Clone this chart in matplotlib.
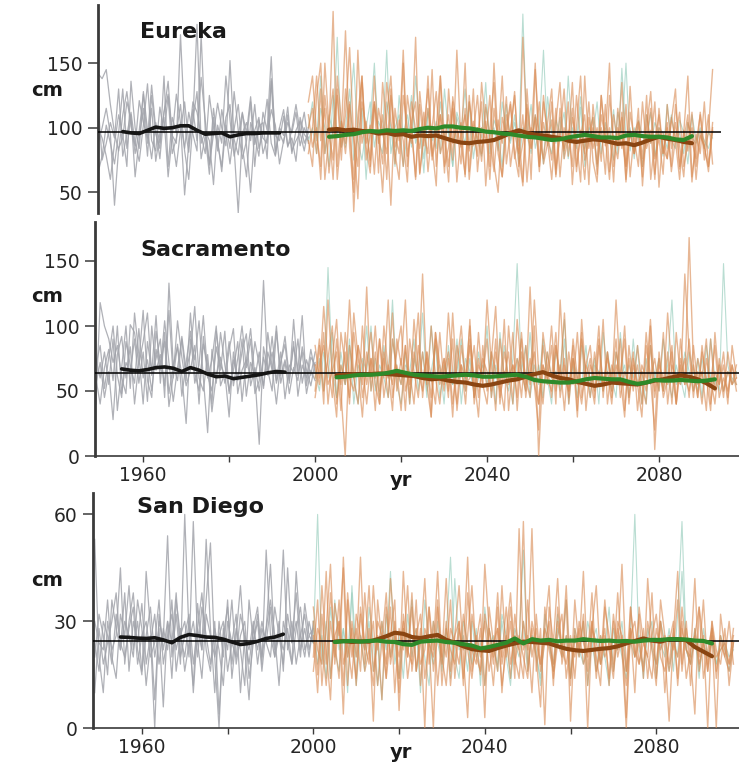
import matplotlib
matplotlib.use("Agg")
import matplotlib.pyplot as plt

plt.rcParams['font.family'] = ['DejaVu Sans']

# ---------------- data ----------------
hist_start = 1949
fut_start = 2000
hist_mean_years = list(range(1955, 1995, 2))
fut_mean_years = list(range(2005, 2095, 2))
xtick_vals = [1960, 1980, 2000, 2020, 2040, 2060, 2080]
xtick_labels = ['1960', '', '2000', '', '2040', '', '2080']

titles = ['Eureka', 'Sacramento', 'San Diego']
yticks = [[50, 100, 150], [0, 50, 100, 150], [0, 30, 60]]
ylims = [(34, 195), (0, 180), (0, 66)]
xlims = [(1949.0, 2104.4), (1948.8, 2098.6), (1948.6, 2099.3)]
refs = [97, 63.6, 24.6]
ref_end = [2100, 2110, 2110]

# Eureka
eu_gray = [
    [142,138,145,118,96,82,110,128,101,86,121,104,92,133,99,76,112,126,94,88,172,102,81,114,90,139,106,71,95,119,100,86,152,91,79,111,96,124,87,101,104,76,138,94,90,109,85,99,118,96,82,100],
    [65,78,102,88,72,96,130,84,110,62,92,115,78,125,95,84,140,70,108,96,118,82,60,104,180,88,97,72,115,90,66,102,84,128,98,76,90,120,70,106,92,88,136,79,100,114,86,92,74,108,95,90],
    [100,92,78,60,88,110,95,70,136,100,84,128,98,76,104,88,112,136,92,70,98,120,88,105,128,76,94,64,108,82,114,96,72,99,118,85,62,104,94,78,112,98,155,82,96,88,110,80,98,105,88,96],
    [88,100,115,95,40,84,92,120,106,80,98,126,88,115,74,96,108,62,94,126,104,84,112,95,82,172,98,90,56,102,88,140,106,78,94,112,86,50,98,108,80,92,114,102,72,90,104,96,112,86,100,92],
    [120,75,88,104,92,130,78,95,112,88,74,102,134,90,82,116,96,124,80,92,104,48,88,120,112,94,80,125,100,88,70,108,118,84,34,96,104,90,118,84,96,122,88,78,100,94,116,82,90,96,112,88],
]
eu_orange = [
    [120,140,95,70,150,100,60,130,85,110,162,90,45,120,100,75,140,88,110,60,125,95,80,150,70,105,120,65,98,130,85,55,140,92,110,75,160,88,64,120,96,78,135,100,60,115,90,140,72,98,125,80,55,118,92,150,70,104,86,120,62,95,130,78,108,90,58,140,84,100,72,125,92,60,110,88,135,70,96,80,115,55,100,128,76,92,64,118,84,104,70,96,140,62,88,110,75,98,145],
    [90,70,125,150,80,105,130,60,95,175,85,50,110,140,75,95,120,65,135,100,40,115,90,160,78,100,62,128,95,80,145,70,110,92,58,124,100,85,150,66,105,90,120,55,98,135,80,62,110,94,128,70,88,115,60,145,92,76,104,130,68,96,84,120,56,100,140,75,90,108,64,125,86,100,58,115,92,70,132,80,96,62,110,88,120,54,96,76,105,130,68,90,110,58,95,80,120,70,98],
    [100,115,80,130,60,95,190,70,105,88,120,35,100,140,85,65,118,96,72,135,105,80,60,125,100,88,170,64,92,115,78,100,140,70,85,120,58,96,110,82,130,66,100,90,125,72,50,108,94,118,80,62,170,96,84,110,70,125,90,60,104,135,76,92,115,66,98,80,120,74,58,110,92,150,70,100,84,118,62,96,105,76,125,60,90,110,80,100,70,118,86,62,104,90,76,112,84,70,100],
    [80,100,140,90,115,65,100,125,75,130,95,60,160,88,105,70,120,92,50,110,140,85,98,70,125,100,60,118,86,140,75,95,110,65,130,88,100,72,115,60,96,125,80,105,70,150,88,62,100,120,76,95,58,130,84,108,66,120,96,75,115,62,100,88,135,70,94,110,56,118,86,100,64,125,90,76,108,58,112,92,70,120,84,98,60,115,80,104,66,92,112,70,88,100,60,96,84,110,72],
    [110,85,100,60,125,95,75,140,105,80,118,92,70,135,88,102,64,115,96,80,130,72,106,90,58,120,98,84,112,66,100,128,80,94,70,115,90,104,62,125,86,100,74,118,92,66,106,88,124,70,96,80,110,58,100,92,120,72,88,106,64,115,82,98,70,125,90,60,108,84,100,74,118,66,94,86,112,60,98,80,104,70,92,115,64,100,84,76,108,90,60,98,82,112,70,94,86,66,104],
]
eu_teal = [
    [100,120,90,140,80,110,95,170,85,100,130,75,95,115,60,105,150,90,80,120,100,70,125,95,110,85,140,100,65,115,90,105,80,130,95,70,112,100,88,120,76,100,92,135,80,106,96,70,118,90,104,86,188,94,80,110,98,72,124,96,88,108,76,140,92,84,116,70,100,94,120,80,104,90,75,112,96,150,82,100,92,70,110,88,104,96,78,118,90,84,106,96,72,110,90,100,84,96,92],
    [90,100,80,115,100,70,125,95,105,85,110,150,90,75,100,120,85,105,95,160,80,100,110,70,96,125,88,100,76,112,96,84,120,92,100,70,108,96,130,84,100,92,78,116,94,100,82,120,96,88,110,72,100,94,118,84,100,160,90,80,106,96,112,76,100,90,124,84,98,108,70,96,100,88,114,80,146,92,100,76,106,94,88,112,78,100,96,84,110,90,96,80,104,92,88,98,90,84,96],
]
eu_black = [97,96,95.5,98,100.5,99.5,100,101.5,101.5,98,95,95.5,96,93,94.5,95.5,95.5,96,96,96]
eu_brown = [98.5,99,98,98.5,97.5,97,95.5,96,94.5,95,93,94,93.5,94,92,90,88.5,88,89,89.5,
            90.5,93,96,98,96,94.5,94,93,92,90,89,90,91,90.5,89,87.5,88,86.5,88.5,91,93,91.5,90.5,89,88]
eu_green = [93,93.5,94.5,95,96.5,97.5,97,98,97.5,98,97.5,99,100,99.5,101,101,100,99.5,98.5,97,
            96.5,95.5,95,94,93,92.5,91.5,90.5,91,92.5,93.5,94.5,93.5,92.5,92.5,92,94,94.5,93.5,93,93,92.5,91,90.5,93.5]

# Sacramento
sa_gray = [
    [40,118,100,90,72,85,60,48,101,95,70,88,110,62,75,90,45,133,70,58,92,66,80,115,60,50,78,40,96,70,62,88,54,75,100,68,90,48,58,135,64,80,56,72,92,60,84,66,108,54,76,70],
    [75,60,80,55,90,35,68,100,52,110,78,40,88,65,108,56,95,48,70,84,62,25,90,74,104,60,18,82,56,95,70,50,66,88,42,74,98,60,80,52,95,68,40,72,86,56,105,62,80,48,66,58],
    [55,72,45,65,28,78,92,60,84,40,72,112,58,45,96,70,88,38,62,104,76,54,66,85,40,92,60,74,100,54,64,30,80,58,90,46,72,62,9,84,66,50,96,62,74,58,88,46,70,60,82,64],
    [60,40,68,82,58,100,48,72,64,90,56,80,42,100,66,78,54,112,60,86,46,72,96,56,70,108,62,50,84,66,96,48,74,60,80,94,54,68,50,76,62,92,58,80,44,70,64,90,56,74,62,80],
    [70,85,52,76,100,62,45,88,70,56,98,60,74,50,82,66,104,72,42,68,90,58,110,64,50,86,70,34,62,76,56,82,98,48,66,74,60,88,70,54,80,66,100,56,72,48,68,58,84,66,54,72],
]
sa_orange = [
    [50,85,40,120,60,30,95,70,45,110,75,55,130,50,80,40,100,65,35,90,70,120,45,80,60,140,55,30,95,70,50,110,65,40,85,60,100,45,75,55,120,70,35,90,60,80,40,105,65,50,130,55,20,95,70,45,85,60,110,40,75,55,95,35,70,60,100,45,80,50,120,60,30,85,55,70,40,95,60,20,80,50,110,65,40,90,55,168,70,45,80,60,35,95,55,70,40,85,60],
    [70,55,95,40,75,105,50,0,85,60,40,100,55,75,35,90,60,120,45,70,55,85,40,105,65,50,80,30,95,60,75,45,110,55,70,40,90,60,30,85,50,75,115,45,65,55,95,35,80,60,45,100,0,70,55,85,40,120,60,50,75,30,90,65,45,80,55,105,40,70,60,90,35,75,50,85,55,40,100,5,65,50,80,40,95,60,75,45,85,55,65,35,90,50,70,45,80,55,60],
    [85,60,115,70,45,90,55,80,40,95,65,30,80,60,100,50,75,45,90,65,35,85,55,70,110,45,80,60,40,95,55,75,30,85,65,50,105,40,70,60,90,45,80,55,35,100,60,75,45,85,55,120,65,40,80,60,95,45,70,50,85,35,105,60,75,45,90,55,65,40,80,60,100,45,70,55,30,85,60,75,50,95,40,70,60,55,140,80,45,75,60,90,40,65,55,80,45,70,50],
    [60,90,50,75,100,40,70,55,120,60,85,45,70,95,55,40,80,60,110,50,75,35,90,65,45,80,55,100,60,40,75,50,90,35,70,60,85,45,95,55,40,80,65,50,105,35,70,60,90,45,75,55,40,85,60,100,50,70,35,80,55,95,45,70,60,40,85,50,75,60,90,45,65,55,80,35,70,60,105,50,75,45,60,85,40,70,55,90,50,65,40,75,55,85,45,60,50,70,55],
    [45,70,85,55,65,80,35,95,60,50,85,70,40,75,60,90,45,70,55,80,100,50,65,40,85,60,75,45,90,55,65,80,40,70,100,55,60,85,45,75,65,50,90,40,80,60,70,45,95,55,65,80,40,70,60,50,85,55,75,45,90,60,40,70,85,50,65,55,80,45,70,60,90,40,75,55,65,50,85,45,70,60,55,80,40,75,60,50,70,45,85,55,60,40,75,50,65,55,70],
]
sa_teal = [
    [60,75,50,145,65,45,80,55,90,40,70,60,100,50,75,45,85,60,120,55,40,70,65,90,50,80,45,100,60,70,40,85,55,65,90,50,75,45,60,70,55,80,40,95,60,50,75,148,65,85,45,70,55,90,60,40,80,65,105,50,70,45,85,60,55,75,40,95,65,50,80,60,70,45,90,55,65,40,85,60,75,50,70,120,55,60,45,80,65,50,75,55,90,60,50,148,70,55,65],
    [65,50,80,60,95,45,70,55,85,60,40,75,65,100,50,70,60,45,90,65,55,80,40,75,60,110,50,65,85,45,70,60,55,90,40,75,65,50,80,60,100,45,70,55,85,60,40,75,65,50,95,55,70,45,80,60,65,50,90,40,75,60,55,85,45,70,65,50,80,60,45,95,55,70,60,85,40,75,55,65,50,90,60,45,70,55,80,65,50,75,45,85,60,55,70,50,65,60,55],
]
sa_black = [67,66,65.5,66.5,68,68.5,67.5,65,68,66,63,61,61.5,59.5,60.5,61.5,62.5,64,65,64.5]
sa_brown = [62,62.5,63,62.5,63,63.5,63,62.5,62,61.5,60,59,59.5,58,57,56.5,55,54,55,56.5,
            58,59,61,63,64.5,62,60,59,57,55.5,54,55,56.5,56,55.5,55,56.5,58,59,60.5,62,61,59,56,52]
sa_green = [60.5,61,62,62.5,62.5,63,64,65.5,64,62.5,62,61.5,61,61.5,62,62.5,62,61,61,61.5,
            62,62.5,61,58.5,57.5,57,56.5,56.5,57.5,59,60,59.5,59,59,57,55.5,56.5,58.5,58,58,58.5,58,57.5,58,59]

# San Diego
sd_gray = [
    [53,20,10,30,22,26,45,18,30,38,22,15,44,28,8,30,25,54,20,32,18,60,26,12,35,22,53,28,10,30,20,36,14,26,40,22,8,28,34,18,50,26,20,30,16,45,24,30,20,35,26,28],
    [20,32,26,15,36,28,22,38,16,30,24,35,18,26,0,32,22,30,14,36,26,20,30,10,28,38,22,16,30,4,26,34,18,28,22,12,36,24,30,16,28,46,22,26,18,32,24,38,22,28,20,30],
    [10,28,18,24,30,38,22,30,26,20,36,28,12,24,32,18,28,22,36,16,26,30,20,58,24,14,32,26,20,0,28,22,36,18,26,30,14,24,32,20,28,36,26,12,30,24,18,28,34,22,26,24],
    [30,24,22,36,20,14,32,26,40,22,30,16,26,34,20,28,6,30,24,38,20,26,32,18,28,22,36,52,20,26,30,16,24,32,10,26,22,30,18,28,24,20,34,26,50,22,30,18,26,32,22,28],
    [24,16,30,26,18,32,24,20,28,34,18,26,30,20,24,36,18,26,32,22,28,16,24,30,20,34,26,18,28,22,12,30,24,20,32,26,18,28,22,30,24,34,20,26,22,28,18,44,26,20,30,24],
]
sd_orange = [
    [30,15,40,22,8,35,26,45,12,30,20,48,18,28,2,36,24,14,42,26,10,32,20,38,16,28,0,34,22,44,18,30,12,26,40,20,3,32,24,15,46,28,18,34,10,26,38,20,14,30,22,56,16,28,1,34,24,42,18,26,12,36,22,30,0,28,40,18,26,14,32,22,46,16,28,10,34,24,20,38,14,30,22,2,26,44,18,30,12,28,20,36,16,26,0,32,22,18,28],
    [20,36,12,28,46,18,30,4,38,24,14,32,22,40,16,26,8,34,20,30,14,44,22,18,36,12,28,24,0,34,20,42,16,26,30,12,38,22,18,28,3,34,24,16,40,20,30,14,56,22,26,10,32,18,28,40,14,24,20,36,2,28,22,44,16,30,20,12,34,26,18,38,22,0,28,20,32,14,42,24,18,30,10,26,22,36,16,28,20,4,34,24,18,30,14,26,20,16,24],
    [26,10,32,18,38,24,14,48,20,28,12,34,24,18,40,22,30,14,26,36,5,28,20,34,16,24,42,18,30,12,26,20,36,14,28,22,48,16,24,32,12,28,20,38,18,26,14,32,22,58,16,28,20,6,34,24,18,30,22,40,14,26,20,32,12,28,24,18,36,22,14,30,26,3,34,20,24,16,30,22,12,36,26,18,28,14,34,22,20,42,16,26,0,30,22,18,28,12,24],
    [34,22,18,44,14,26,30,12,36,20,28,16,38,22,12,30,26,18,34,10,28,22,40,16,26,32,14,24,20,36,12,28,22,18,30,14,26,40,20,16,32,24,12,28,20,34,18,26,22,14,36,20,28,16,24,30,12,34,22,18,26,14,30,24,20,38,16,22,28,12,30,20,26,16,34,22,18,28,14,26,32,20,16,24,30,12,28,22,18,26,34,14,22,28,16,24,20,30,18],
    [16,28,24,12,30,20,36,18,24,14,32,26,16,22,30,12,24,38,18,26,20,30,14,24,28,18,22,34,16,26,20,12,28,24,18,32,22,14,26,20,30,16,24,28,12,22,34,18,26,20,14,30,24,18,28,22,16,26,32,14,24,20,28,18,22,30,14,26,20,24,16,28,22,12,26,30,18,24,20,14,28,22,26,16,24,20,30,14,22,26,18,24,16,28,20,22,24,18,26],
]
sd_teal = [
    [24,60,18,30,14,36,22,28,10,40,20,26,16,34,24,12,30,22,44,18,26,14,32,20,28,10,36,24,18,30,16,26,48,20,14,30,24,18,28,12,34,22,26,16,30,20,12,28,24,50,18,26,20,14,32,24,16,28,22,36,14,26,20,30,12,24,28,18,22,34,16,26,20,14,28,60,22,18,26,30,14,24,20,28,16,32,58,22,18,26,14,28,20,24,18,26,22,16,24],
    [30,18,26,14,34,22,16,28,20,38,12,26,22,30,16,24,8,32,20,26,14,28,22,36,16,26,20,12,30,24,18,28,14,42,22,26,16,30,20,24,12,28,22,18,32,26,14,24,20,30,16,26,22,12,28,24,18,32,20,26,14,28,22,18,30,24,16,26,20,12,28,22,30,16,24,20,26,14,28,22,18,30,24,16,26,20,44,22,18,28,16,24,20,26,18,22,24,20,22],
]
sd_black = [25.6,25.5,25.3,25.2,25.4,24.8,24,25.5,26.3,26,25.6,25.5,25,24.2,23.5,23.8,24.4,25.2,25.6,26.4]
sd_brown = [24.3,24.5,24.2,24.4,24.3,25,25.8,26.8,26.5,25.6,25.3,25.8,26.2,24.8,24,23,22.2,21.9,21.7,22.5,
            23.2,23.8,24.3,24.2,24,23.8,23,22.3,21.9,21.7,22,22.3,22.5,23,23.8,24.5,25.2,24.6,24.3,25,25,24.7,22.8,21.5,20.2]
sd_green = [24.2,24.4,24.5,24.3,24.5,24.6,24.3,24.2,23.6,23.4,24.3,24.5,24.6,24.2,24,23.6,23.2,22.4,22.8,23.4,
            24,25.2,23.8,25,24.6,24.8,24.4,24.6,24.6,25,24.7,24.5,24.6,24.4,24.5,24.3,24.6,24.8,24.8,25,25,24.9,24.6,24.5,23.8]

panels = [
    (eu_gray, eu_orange, eu_teal, eu_black, eu_brown, eu_green),
    (sa_gray, sa_orange, sa_teal, sa_black, sa_brown, sa_green),
    (sd_gray, sd_orange, sd_teal, sd_black, sd_brown, sd_green),
]

# ---------------- figure ----------------
W, H = 739, 765
fig = plt.figure(figsize=(W / 100, H / 100), dpi=100)

def rect(l, t, r, b):
    return [l / W, 1 - b / H, (r - l) / W, (b - t) / H]

axes_rects = [rect(98, 5, 739, 213), rect(95, 222, 739, 456), rect(93, 493, 739, 728.3)]
title_pos = [(140, 32), (140, 250), (137, 507)]
cm_pos = [(47, 91), (47, 297), (47, 580)]
yr_pos = [None, (401, 481), (401, 752)]

GRAY = '#a2a4ab'
ORANGE = '#d98c55'
TEAL = '#9ccfbf'
SPINE = '#3a3a3a'
TXT = '#262626'

for i, (gray, orange, teal, black, brown, green) in enumerate(panels):
    ax = fig.add_axes(axes_rects[i])
    for s in gray:
        ax.plot(range(hist_start, hist_start + len(s)), s, color=GRAY, lw=0.9, alpha=0.85, zorder=2)
    for s in teal:
        ax.plot(range(fut_start, fut_start + len(s)), s, color=TEAL, lw=0.8, alpha=0.7, zorder=2)
    for s in orange:
        ax.plot(range(fut_start, fut_start + len(s)), s, color=ORANGE, lw=1.0, alpha=0.62, zorder=3)
    ax.hlines(refs[i], xlims[i][0], ref_end[i], color='black', lw=1.1, zorder=4)
    ax.plot(hist_mean_years[:len(black)], black, color='#151515', lw=2.6, zorder=5,
            solid_capstyle='round', solid_joinstyle='round')
    ax.plot(fut_mean_years[:len(brown)], brown, color='#8a4512', lw=3.0, zorder=5,
            solid_capstyle='round', solid_joinstyle='round')
    ax.plot(fut_mean_years[:len(green)], green, color='#2e8a2a', lw=3.0, zorder=6,
            solid_capstyle='round', solid_joinstyle='round')

    ax.set_xlim(*xlims[i])
    ax.set_ylim(*ylims[i])
    ax.set_yticks(yticks[i])
    ax.tick_params(axis='y', direction='out', length=7, width=1.1, colors=SPINE,
                   labelsize=13.5, pad=4, labelcolor=TXT)
    for side in ['top', 'right']:
        ax.spines[side].set_visible(False)
    ax.spines['left'].set_linewidth(2.0)
    ax.spines['left'].set_color(SPINE)
    if i == 0:
        ax.spines['bottom'].set_visible(False)
        ax.set_xticks([])
    else:
        ax.spines['bottom'].set_linewidth(1.2)
        ax.spines['bottom'].set_color(SPINE)
        ax.set_xticks(xtick_vals)
        ax.set_xticklabels(xtick_labels)
        ax.tick_params(axis='x', direction='out', length=4, width=1.0, colors=SPINE,
                       labelsize=13.5, pad=3, labelcolor=TXT)
    ax.patch.set_alpha(0)

    tx, ty = title_pos[i]
    fig.text(tx / W, 1 - ty / H, titles[i], fontsize=16, fontweight='bold',
             color='#1a1a1a', ha='left', va='center')
    cx, cy = cm_pos[i]
    fig.text(cx / W, 1 - cy / H, 'cm', fontsize=14, fontweight='bold',
             color='#1a1a1a', ha='center', va='center')
    if yr_pos[i] is not None:
        yx, yy = yr_pos[i]
        fig.text(yx / W, 1 - yy / H, 'yr', fontsize=14, fontweight='bold',
                 color='#1a1a1a', ha='center', va='center')

fig.savefig('out.png', dpi=100)
